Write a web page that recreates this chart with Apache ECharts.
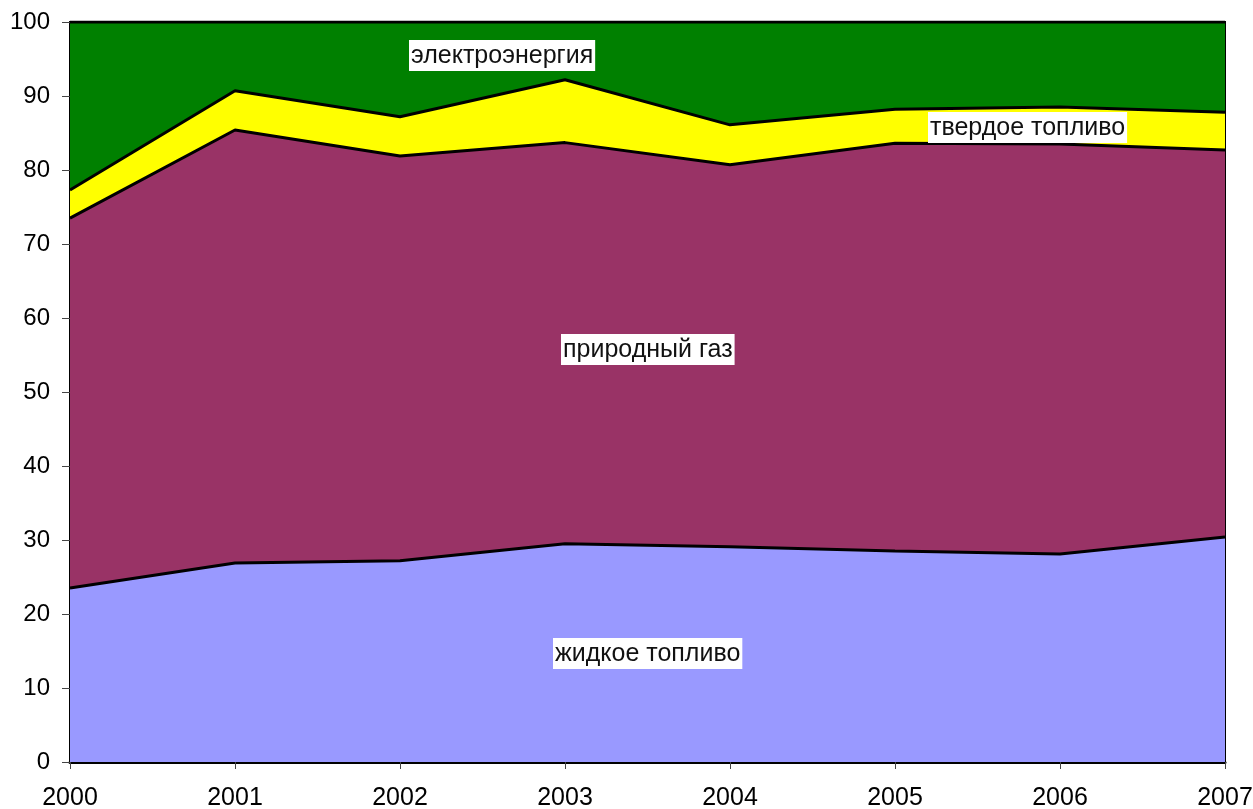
<!DOCTYPE html>
<html>
<head>
<meta charset="utf-8">
<script src="https://cdn.jsdelivr.net/npm/echarts@6/dist/echarts.min.js"></script>
<style>
  html, body { margin: 0; padding: 0; background: #fff; }
  #main { width: 1253px; height: 809px; }
</style>
</head>
<body>
<div id="main"></div>
<script>
const years = ['2000', '2001', '2002', '2003', '2004', '2005', '2006', '2007'];
// shares, % (stacked to 100)
const liquidFuel = [23.5, 26.9, 27.2, 29.5, 29.1, 28.5, 28.1, 30.4];
const naturalGas = [50.0, 58.5, 54.7, 54.2, 51.6, 55.1, 55.4, 52.3];
const solidFuel = [3.8, 5.3, 5.3, 8.5, 5.4, 4.6, 5.0, 5.1];
const electricity = [22.7, 9.3, 12.8, 7.8, 13.9, 11.8, 11.5, 12.2];
const yTicks = [0, 10, 20, 30, 40, 50, 60, 70, 80, 90, 100];

const chart = echarts.init(document.getElementById('main'));

function areaSeries(name, data, color) {
  return {
    name: name,
    type: 'line',
    stack: 'total',
    data: data,
    symbol: 'none',
    lineStyle: { color: '#000', width: 3 },
    areaStyle: { color: color, opacity: 1 },
    itemStyle: { color: color }
  };
}

const labelStyle = {
  fontFamily: 'Liberation Sans, Arial, sans-serif',
  fontSize: 25,
  lineHeight: 26,
  fill: '#111',
  backgroundColor: '#fff',
  padding: [3, 2, 2, 2]
};

let option = {
  animation: false,
  grid: {
    left: 70, right: 28, top: 22, bottom: 47,
    outerBoundsMode: 'none', containLabel: false,
    show: true, borderColor: '#000', borderWidth: 2
  },
  xAxis: {
    type: 'category',
    data: years,
    boundaryGap: false,
    axisLine: { lineStyle: { color: '#000', width: 3 } },
    axisTick: { alignWithLabel: true, length: 7, lineStyle: { color: '#444' } },
    axisLabel: { color: '#000', fontSize: 25, fontFamily: 'Liberation Sans, Arial, sans-serif', margin: 24, interval: 0 },
    splitLine: { show: false }
  },
  yAxis: {
    type: 'value',
    min: yTicks[0],
    max: yTicks[yTicks.length - 1],
    interval: 10,
    axisLine: { show: true, lineStyle: { color: '#000', width: 2 } },
    axisTick: { show: true, length: 8, lineStyle: { color: '#444' } },
    axisLabel: { color: '#000', fontSize: 24, fontFamily: 'Liberation Sans, Arial, sans-serif', margin: 20 },
    splitLine: { show: false }
  },
  series: [
    areaSeries('жидкое топливо', liquidFuel, '#9999FF'),
    areaSeries('природный газ', naturalGas, '#993366'),
    areaSeries('твердое топливо', solidFuel, '#FFFF00'),
    areaSeries('электроэнергия', electricity, '#008000')
  ],
  graphic: [
    { type: 'text', left: 409, top: 40, style: Object.assign({ text: 'электроэнергия' }, labelStyle), z: 100 },
    { type: 'text', left: 928, top: 112, style: Object.assign({ text: 'твердое топливо' }, labelStyle), z: 100 },
    { type: 'text', left: 561, top: 334, style: Object.assign({ text: 'природный газ' }, labelStyle), z: 100 },
    { type: 'text', left: 553, top: 638, style: Object.assign({ text: 'жидкое топливо' }, labelStyle), z: 100 }
  ]
};

chart.setOption(option);
</script>
</body>
</html>
